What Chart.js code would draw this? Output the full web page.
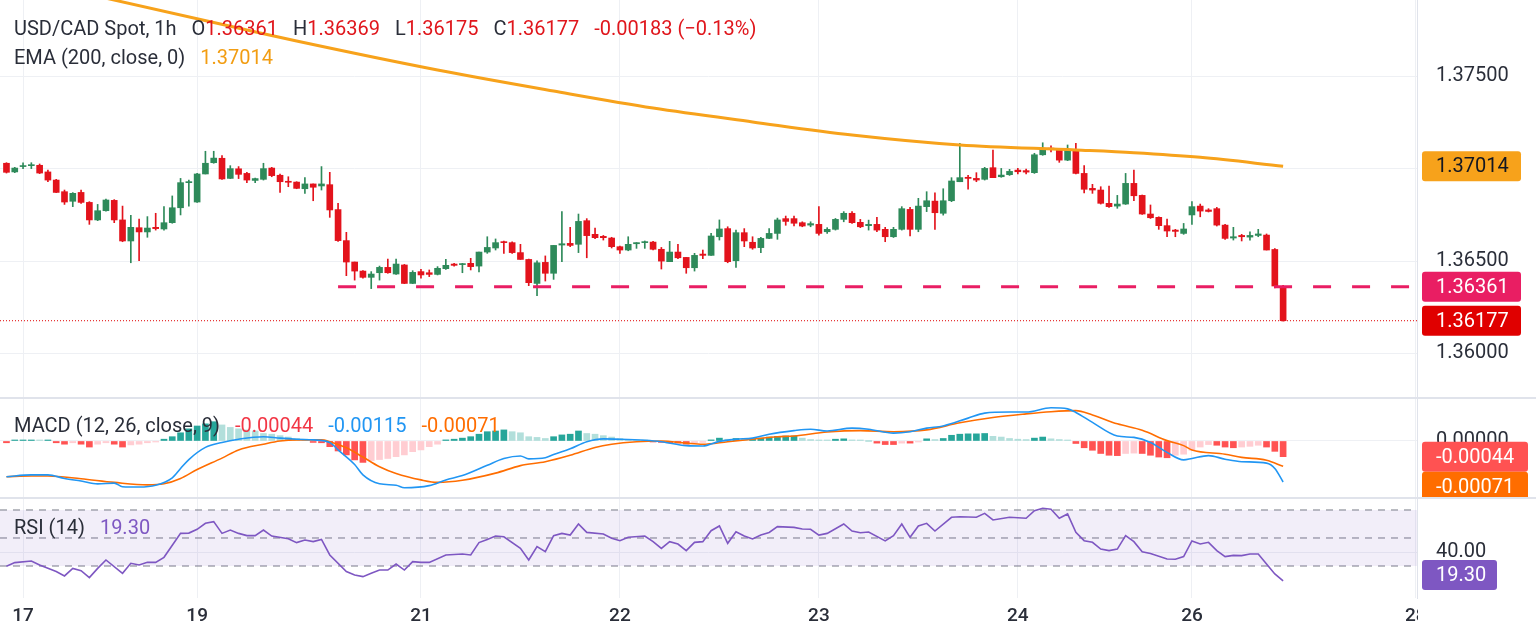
<!DOCTYPE html>
<html>
<head>
<meta charset="utf-8">
<script src="https://cdn.jsdelivr.net/npm/chart.js@4.4.1/dist/chart.umd.min.js"></script>
<style>
  body { margin: 0; background: #fff; overflow: hidden; }
  #wrap { position: relative; width: 1536px; height: 641px; overflow: hidden; background: #fff; font-family: Roboto, "Noto Sans", sans-serif; }
  canvas { position: absolute; left: 0; }
  .sep { position: absolute; left: 0; width: 1536px; background: #e0e3eb; }
  .legend { position: absolute; left: 14px; font-size: 20px; line-height: 24px; color: #2a2e39; white-space: nowrap; z-index: 2; }
  .legend span { margin-left: 15px; }
</style>
</head>
<body>
<div id="wrap">
  <canvas id="mainChart" width="1536" height="397" style="top:0"></canvas>
  <div class="sep" style="top:397px;height:2px"></div>
  <canvas id="macdChart" width="1536" height="98" style="top:399px"></canvas>
  <div class="sep" style="top:497px;height:2px"></div>
  <canvas id="rsiChart" width="1536" height="142" style="top:499px"></canvas>
  <div class="legend" id="legMain" style="top:16px"></div>
  <div class="legend" id="legEma" style="top:45px"></div>
  <div class="legend" id="legMacd" style="top:413px"></div>
  <div class="legend" id="legRsi" style="top:515px"></div>
</div>
<script>
// USD/CAD 1h candles (index 0 = first visible bar)
const opens = [
  1.37030, 1.36983, 1.37012, 1.37017, 1.37019, 1.36983, 1.36939, 1.36876, 1.36824, 1.36872,
  1.36818, 1.36723, 1.36773, 1.36829, 1.36723, 1.36609, 1.36681, 1.36658, 1.36683, 1.36674,
  1.36708, 1.36789, 1.36925, 1.36820, 1.36972, 1.37033, 1.37057, 1.36948, 1.37000, 1.36975,
  1.36937, 1.36943, 1.37004, 1.36965, 1.36932, 1.36928, 1.36892, 1.36918, 1.36907, 1.36914,
  1.36779, 1.36611, 1.36495, 1.36446, 1.36412, 1.36437, 1.36466, 1.36430, 1.36479, 1.36379,
  1.36443, 1.36437, 1.36428, 1.36459, 1.36484, 1.36481, 1.36488, 1.36473, 1.36549, 1.36571,
  1.36605, 1.36600, 1.36546, 1.36509, 1.36379, 1.36493, 1.36434, 1.36587, 1.36596, 1.36591,
  1.36719, 1.36645, 1.36634, 1.36625, 1.36578, 1.36560, 1.36594, 1.36600, 1.36603, 1.36564,
  1.36497, 1.36549, 1.36520, 1.36464, 1.36538, 1.36531, 1.36632, 1.36676, 1.36502, 1.36654,
  1.36602, 1.36573, 1.36623, 1.36650, 1.36730, 1.36730, 1.36708, 1.36695, 1.36699, 1.36659,
  1.36672, 1.36726, 1.36759, 1.36710, 1.36692, 1.36699, 1.36672, 1.36632, 1.36672, 1.36780,
  1.36672, 1.36795, 1.36825, 1.36759, 1.36827, 1.36930, 1.36954, 1.36948, 1.36943, 1.37006,
  1.36957, 1.36968, 1.36993, 1.36990, 1.36979, 1.37076, 1.37112, 1.37102, 1.37047, 1.37098,
  1.36975, 1.36894, 1.36885, 1.36813, 1.36798, 1.36809, 1.36921, 1.36856, 1.36755, 1.36737,
  1.36692, 1.36668, 1.36650, 1.36750, 1.36798, 1.36777, 1.36784, 1.36695, 1.36625, 1.36639,
  1.36630, 1.36639, 1.36641, 1.36563, 1.36361
];
const highs = [
  1.37033, 1.37008, 1.37033, 1.37033, 1.37026, 1.36993, 1.36943, 1.36885, 1.36871, 1.36885,
  1.36822, 1.36807, 1.36836, 1.36833, 1.36798, 1.36748, 1.36728, 1.36741, 1.36759, 1.36795,
  1.36853, 1.36948, 1.36939, 1.36975, 1.37095, 1.37095, 1.37071, 1.37017, 1.37012, 1.36981,
  1.36950, 1.37030, 1.37008, 1.36972, 1.36957, 1.36930, 1.36952, 1.36918, 1.37012, 1.36981,
  1.36813, 1.36656, 1.36495, 1.36448, 1.36443, 1.36473, 1.36511, 1.36511, 1.36482, 1.36448,
  1.36455, 1.36452, 1.36470, 1.36509, 1.36488, 1.36488, 1.36515, 1.36549, 1.36632, 1.36620,
  1.36609, 1.36605, 1.36591, 1.36511, 1.36502, 1.36528, 1.36585, 1.36768, 1.36683, 1.36755,
  1.36730, 1.36679, 1.36639, 1.36629, 1.36582, 1.36632, 1.36600, 1.36609, 1.36607, 1.36574,
  1.36607, 1.36591, 1.36520, 1.36542, 1.36560, 1.36650, 1.36723, 1.36686, 1.36668, 1.36676,
  1.36632, 1.36629, 1.36676, 1.36733, 1.36744, 1.36744, 1.36713, 1.36713, 1.36795, 1.36681,
  1.36731, 1.36768, 1.36768, 1.36726, 1.36722, 1.36737, 1.36683, 1.36683, 1.36795, 1.36791,
  1.36840, 1.36876, 1.36870, 1.36892, 1.36952, 1.37138, 1.36964, 1.36979, 1.37008, 1.37102,
  1.37002, 1.36997, 1.37002, 1.36999, 1.37084, 1.37141, 1.37125, 1.37109, 1.37129, 1.37138,
  1.37017, 1.36916, 1.36903, 1.36907, 1.36856, 1.36975, 1.36993, 1.36858, 1.36804, 1.36740,
  1.36728, 1.36672, 1.36704, 1.36822, 1.36809, 1.36784, 1.36791, 1.36699, 1.36683, 1.36645,
  1.36659, 1.36672, 1.36647, 1.36568, 1.36369
];
const lows = [
  1.36977, 1.36979, 1.37001, 1.37001, 1.36974, 1.36930, 1.36871, 1.36807, 1.36795, 1.36813,
  1.36699, 1.36719, 1.36771, 1.36708, 1.36605, 1.36491, 1.36502, 1.36629, 1.36668, 1.36668,
  1.36705, 1.36750, 1.36798, 1.36818, 1.36972, 1.37030, 1.36943, 1.36947, 1.36947, 1.36925,
  1.36925, 1.36939, 1.36957, 1.36872, 1.36903, 1.36892, 1.36867, 1.36827, 1.36885, 1.36737,
  1.36607, 1.36421, 1.36397, 1.36408, 1.36351, 1.36397, 1.36434, 1.36428, 1.36378, 1.36378,
  1.36408, 1.36416, 1.36425, 1.36455, 1.36473, 1.36437, 1.36452, 1.36441, 1.36542, 1.36560,
  1.36542, 1.36542, 1.36509, 1.36367, 1.36313, 1.36392, 1.36401, 1.36497, 1.36578, 1.36546,
  1.36518, 1.36621, 1.36614, 1.36571, 1.36542, 1.36556, 1.36569, 1.36569, 1.36560, 1.36457,
  1.36497, 1.36513, 1.36434, 1.36446, 1.36513, 1.36531, 1.36614, 1.36491, 1.36466, 1.36578,
  1.36564, 1.36546, 1.36621, 1.36618, 1.36694, 1.36690, 1.36686, 1.36686, 1.36641, 1.36650,
  1.36668, 1.36713, 1.36704, 1.36681, 1.36668, 1.36659, 1.36605, 1.36628, 1.36668, 1.36636,
  1.36659, 1.36768, 1.36672, 1.36749, 1.36822, 1.36930, 1.36889, 1.36930, 1.36939, 1.36952,
  1.36954, 1.36964, 1.36972, 1.36972, 1.36975, 1.37073, 1.37091, 1.37035, 1.37044, 1.36972,
  1.36870, 1.36867, 1.36809, 1.36791, 1.36786, 1.36807, 1.36827, 1.36753, 1.36731, 1.36672,
  1.36632, 1.36632, 1.36645, 1.36699, 1.36740, 1.36766, 1.36690, 1.36618, 1.36614, 1.36609,
  1.36614, 1.36632, 1.36560, 1.36355, 1.36175
];
const closes = [
  1.36981, 1.37004, 1.37017, 1.37021, 1.36977, 1.36939, 1.36872, 1.36820, 1.36867, 1.36818,
  1.36723, 1.36773, 1.36831, 1.36723, 1.36609, 1.36683, 1.36658, 1.36679, 1.36676, 1.36708,
  1.36789, 1.36925, 1.36930, 1.36972, 1.37030, 1.37058, 1.36945, 1.37001, 1.36970, 1.36939,
  1.36947, 1.37001, 1.36963, 1.36930, 1.36927, 1.36894, 1.36918, 1.36900, 1.36918, 1.36777,
  1.36611, 1.36495, 1.36446, 1.36412, 1.36430, 1.36466, 1.36437, 1.36484, 1.36379, 1.36439,
  1.36425, 1.36428, 1.36461, 1.36477, 1.36477, 1.36484, 1.36470, 1.36549, 1.36574, 1.36600,
  1.36600, 1.36546, 1.36509, 1.36383, 1.36491, 1.36434, 1.36585, 1.36594, 1.36585, 1.36715,
  1.36638, 1.36627, 1.36627, 1.36578, 1.36560, 1.36591, 1.36600, 1.36603, 1.36564, 1.36500,
  1.36549, 1.36518, 1.36464, 1.36531, 1.36531, 1.36636, 1.36674, 1.36497, 1.36654, 1.36609,
  1.36571, 1.36623, 1.36650, 1.36723, 1.36715, 1.36705, 1.36690, 1.36703, 1.36650, 1.36672,
  1.36726, 1.36759, 1.36708, 1.36686, 1.36699, 1.36668, 1.36632, 1.36672, 1.36784, 1.36672,
  1.36798, 1.36827, 1.36762, 1.36827, 1.36934, 1.36952, 1.36948, 1.36939, 1.37002, 1.36952,
  1.36966, 1.36986, 1.36984, 1.36982, 1.37076, 1.37102, 1.37105, 1.37047, 1.37102, 1.36975,
  1.36889, 1.36885, 1.36813, 1.36795, 1.36809, 1.36921, 1.36854, 1.36755, 1.36735, 1.36692,
  1.36663, 1.36661, 1.36674, 1.36795, 1.36771, 1.36769, 1.36695, 1.36623, 1.36632, 1.36632,
  1.36639, 1.36647, 1.36560, 1.36365, 1.36177
];
const changeAbs = -0.00183;
const changePct = -0.13;

// time axis: bar index where each day starts
const dayTicks = [2, 23, 50, 74, 98, 122, 143, 170];
const dayLabels = ['17', '19', '21', '22', '23', '24', '26', '28'];
const priceTicks = [1.360, 1.365, 1.370, 1.375];

// EMA 200 read at a few bars
const emaIdx = [0, 13, 29, 35, 52, 66, 78, 90, 102, 115, 129, 136, 144, 154];
const emaVal = [1.38049, 1.37914, 1.37752, 1.37692, 1.37535, 1.37421, 1.37329, 1.37254, 1.37183, 1.37129, 1.37102, 1.37087, 1.37062, 1.37014];

const supportLevel = 1.36361;
const supportFrom = 40;

// MACD (12, 26, 9)
const macdHist = [
  -0.00005, 0.00002, 0.00002, 0.00002, 0.00001, 0.00001, -0.00005, -0.00009, -0.00005, -0.00009,
  -0.00017, -0.00009, -0.00005, -0.00009, -0.00017, -0.00011, -0.00009, -0.00005, -0.00002, 0.00005,
  0.00012, 0.00023, 0.00034, 0.00042, 0.00048, 0.00054, 0.00045, 0.00038, 0.00034, 0.00031,
  0.00028, 0.00021, 0.00019, 0.00015, 0.00011, 0.00007, 0.00005, -0.00004, -0.00005, -0.00016,
  -0.00028, -0.00039, -0.00053, -0.00060, -0.00055, -0.00052, -0.00049, -0.00044, -0.00039, -0.00030,
  -0.00025, -0.00016, -0.00009, 0.00003, 0.00005, 0.00008, 0.00012, 0.00019, 0.00026, 0.00028,
  0.00031, 0.00026, 0.00023, 0.00012, 0.00010, 0.00007, 0.00012, 0.00017, 0.00019, 0.00028,
  0.00021, 0.00019, 0.00015, 0.00011, 0.00007, 0.00004, 0.00002, 0.00001, -0.00001, -0.00004,
  -0.00005, -0.00006, -0.00009, -0.00005, -0.00004, 0.00003, 0.00008, 0.00005, 0.00007, 0.00006,
  0.00006, 0.00008, 0.00011, 0.00013, 0.00014, 0.00014, 0.00008, 0.00004, 0.00002, 0.00001,
  0.00005, 0.00006, 0.00003, 0.00001, 0.00000, -0.00006, -0.00010, -0.00010, -0.00006, -0.00006,
  -0.00002, 0.00006, 0.00004, 0.00007, 0.00016, 0.00019, 0.00020, 0.00020, 0.00021, 0.00013,
  0.00011, 0.00007, 0.00005, 0.00004, 0.00008, 0.00011, 0.00006, 0.00004, 0.00002, -0.00007,
  -0.00019, -0.00026, -0.00035, -0.00040, -0.00041, -0.00035, -0.00034, -0.00035, -0.00040, -0.00045,
  -0.00047, -0.00040, -0.00037, -0.00026, -0.00017, -0.00010, -0.00012, -0.00017, -0.00019, -0.00017,
  -0.00015, -0.00012, -0.00017, -0.00029, -0.00044
];
const macdIdx = [0, 3, 5, 7, 9, 11, 13, 14, 16, 18, 20, 21, 22, 24, 26, 28, 31, 33, 35, 37,
  39, 40, 42, 43, 45, 47, 48, 51, 53, 55, 58, 60, 62, 63, 65, 66, 68, 70, 72, 74,
  77, 79, 82, 84, 86, 88, 90, 92, 95, 97, 99, 102, 104, 107, 109, 111, 113, 116, 118, 121,
  123, 126, 128, 129, 131, 134, 136, 138, 140, 142, 143, 145, 147, 149, 152, 153, 154];
const macdVal = [-0.00100, -0.00095, -0.00095, -0.00105, -0.00112, -0.00120, -0.00118, -0.00128, -0.00129, -0.00124,
  -0.00103, -0.00077, -0.00052, -0.00018, -0.00004, 0.00005, 0.00012, 0.00008, 0.00005, 0.00003,
  -0.00004, -0.00025, -0.00066, -0.00095, -0.00120, -0.00124, -0.00131, -0.00125, -0.00109, -0.00097,
  -0.00068, -0.00049, -0.00042, -0.00050, -0.00047, -0.00038, -0.00022, -0.00002, 0.00006, 0.00005,
  0.00002, -0.00002, -0.00013, -0.00014, -0.00001, 0.00005, 0.00008, 0.00019, 0.00029, 0.00033,
  0.00028, 0.00036, 0.00033, 0.00022, 0.00026, 0.00036, 0.00042, 0.00064, 0.00078, 0.00081,
  0.00081, 0.00093, 0.00090, 0.00080, 0.00052, 0.00014, 0.00010, -0.00004, -0.00032, -0.00053,
  -0.00049, -0.00041, -0.00051, -0.00058, -0.00062, -0.00077, -0.00115];
const signalIdx = [0, 3, 5, 9, 13, 17, 19, 21, 23, 26, 28, 31, 33, 35, 38, 39, 41, 43, 45, 47,
  50, 52, 55, 59, 62, 65, 68, 71, 73, 76, 79, 82, 84, 87, 90, 93, 95, 99, 103, 107,
  111, 115, 119, 123, 126, 129, 131, 134, 137, 140, 142, 143, 147, 149, 152, 154];
const signalVal = [-0.00100, -0.00098, -0.00098, -0.00106, -0.00116, -0.00123, -0.00120, -0.00105, -0.00080, -0.00048,
  -0.00025, -0.00009, 0.00000, 0.00003, 0.00003, -0.00002, -0.00019, -0.00045, -0.00072, -0.00091,
  -0.00109, -0.00116, -0.00110, -0.00090, -0.00069, -0.00058, -0.00040, -0.00018, -0.00009, -0.00002,
  0.00000, -0.00006, -0.00009, -0.00002, 0.00005, 0.00012, 0.00014, 0.00025, 0.00029, 0.00026,
  0.00031, 0.00051, 0.00066, 0.00076, 0.00082, 0.00085, 0.00073, 0.00048, 0.00030, 0.00001,
  -0.00013, -0.00025, -0.00037, -0.00046, -0.00054, -0.00071];

// RSI (14)
const rsiIdx = [0, 1, 3, 4, 6, 7, 8, 9, 10, 11, 12, 14, 15, 16, 17, 18, 19, 21, 22, 23,
  24, 25, 26, 27, 28, 29, 30, 31, 32, 34, 35, 36, 37, 38, 39, 41, 42, 43, 44, 45,
  46, 47, 48, 49, 50, 51, 53, 55, 56, 57, 58, 59, 60, 62, 63, 64, 65, 66, 67, 68,
  69, 70, 72, 73, 74, 75, 77, 78, 79, 80, 81, 82, 83, 84, 85, 86, 87, 88, 89, 90,
  91, 92, 93, 95, 96, 97, 98, 99, 101, 102, 103, 104, 106, 107, 108, 109, 110, 111, 112, 114,
  115, 117, 118, 119, 121, 123, 124, 125, 126, 127, 128, 129, 130, 131, 132, 133, 134, 135, 136, 137,
  138, 140, 141, 142, 143, 144, 145, 146, 147, 148, 149, 150, 151, 152, 153, 154];
const rsiVal = [29.8, 32.4, 33.6, 30.7, 26.0, 22.9, 28.3, 26.7, 21.7, 28.3, 34.3, 24.8, 31.9, 30.7, 32.6, 32.6, 36.2, 53.3, 53.5, 56.2,
  60.5, 61.7, 53.3, 55.7, 53.3, 51.7, 51.7, 55.7, 51.4, 49.5, 46.7, 48.6, 47.4, 49.0, 37.9, 26.0, 23.6, 22.4, 24.8, 27.1,
  27.1, 31.4, 27.1, 33.1, 32.6, 32.6, 37.9, 38.6, 37.9, 46.7, 49.0, 51.4, 50.9, 42.6, 34.3, 43.8, 40.2, 51.7, 53.3, 52.1,
  60.0, 54.0, 52.9, 49.8, 48.1, 50.5, 51.4, 47.4, 42.6, 47.4, 45.7, 41.0, 46.9, 47.4, 55.2, 58.6, 46.2, 54.5, 51.4, 49.3,
  52.1, 54.0, 58.1, 57.6, 56.4, 56.2, 52.1, 53.3, 60.0, 55.0, 53.8, 54.3, 47.9, 51.7, 60.0, 50.5, 58.6, 60.5, 55.0, 64.8,
  65.2, 64.8, 67.6, 62.9, 64.8, 64.1, 69.5, 71.2, 70.5, 64.1, 67.2, 54.0, 48.1, 46.9, 42.1, 41.0, 42.1, 51.7, 47.4, 40.2,
  39.0, 35.0, 34.8, 36.7, 47.9, 45.7, 46.9, 41.0, 36.7, 37.6, 37.4, 38.6, 38.6, 31.4, 24.3, 19.3];
const rsiLevels = [70, 50, 30];
const rsiTicks = [40];

// ---- look
const FONT = 'Roboto, "Noto Sans", sans-serif';
const UP = '#2e8a5a';
const DOWN = '#e3131c';
const EMA_C = '#f7a21b';
const SUPPORT_C = '#e91e63';
const LAST_C = '#e00000';
const MACD_C = '#2196f3';
const SIGNAL_C = '#ff6d00';
const RSI_C = '#7e57c2';
const GRID = '#eef0f4';
const TXT = '#2a2e39';
const X_MIN = -0.78, X_MAX = 170.15;
const AXIS_W = 119;

const last = closes.length - 1;

function xAxis(showLabels) {
  return {
    type: 'linear', min: X_MIN, max: X_MAX, offset: false,
    afterBuildTicks: s => { s.ticks = dayTicks.map(v => ({ value: v })); },
    afterFit: s => { s.height = showLabels ? 43 : 0; },
    grid: { color: GRID, drawTicks: false, offset: false },
    border: { display: false },
    ticks: {
      display: showLabels, autoSkip: false, maxRotation: 0, padding: 7,
      color: TXT, font: { size: 19, family: FONT, weight: '500' },
      callback: (v, i) => dayLabels[i]
    }
  };
}

function yAxis(min, max, tickVals, fmt) {
  return {
    position: 'right', min: min, max: max,
    afterBuildTicks: s => { s.ticks = tickVals.map(v => ({ value: v })); },
    // fixed scale width, and no extra top/bottom padding from the tick labels
    afterFit: s => { s.width = AXIS_W; s.paddingTop = 0; s.paddingBottom = 0; },
    grid: { color: GRID, drawTicks: false },
    border: { display: true, color: '#e0e3eb' },
    ticks: { padding: 19, color: TXT, font: { size: 20, family: FONT }, callback: v => fmt(v) }
  };
}

function baseOptions(scales) {
  return {
    responsive: false, animation: false, devicePixelRatio: 1,
    layout: { padding: 0 },
    plugins: { legend: { display: false }, tooltip: { enabled: false } },
    scales: scales
  };
}

// price tags on the right scale
function drawTags(chart, tags, digits, maxCenter) {
  const { ctx, chartArea } = chart;
  const ys = chart.scales.y;
  let prevBottom = -Infinity;
  ctx.save();
  ctx.font = '20px ' + FONT;
  ctx.textBaseline = 'middle';
  tags.forEach(t => {
    let cy = ys.getPixelForValue(t.v);
    if (maxCenter !== undefined) cy = Math.min(cy, maxCenter);
    const top = Math.max(cy - 15, prevBottom);
    ctx.fillStyle = t.bg;
    ctx.beginPath();
    ctx.roundRect(chartArea.right + 5, top, t.w, 30, 3);
    ctx.fill();
    ctx.fillStyle = t.fg;
    ctx.fillText(t.v.toFixed(digits), chartArea.right + 19, top + 16);
    prevBottom = top + 30;
  });
  ctx.restore();
}

const line = (data, color, width, extra) => Object.assign({
  type: 'line', data: data, borderColor: color, borderWidth: width,
  pointRadius: 0, fill: false
}, extra || {});

// ---- main price pane
const candleColor = c => closes[c.dataIndex] >= opens[c.dataIndex] ? UP : DOWN;

new Chart(document.getElementById('mainChart'), {
  type: 'bar',
  data: {
    datasets: [
      line([{ x: supportFrom, y: supportLevel }, { x: X_MAX, y: supportLevel }], SUPPORT_C, 3,
        { borderDash: [18, 21], order: 0 }),
      line(emaIdx.map((x, k) => ({ x: x, y: emaVal[k] })), EMA_C, 3,
        { cubicInterpolationMode: 'monotone', order: 1 }),
      {
        type: 'bar', order: 2, grouped: false, barThickness: 6, minBarLength: 1,
        data: opens.map((o, i) => ({ x: i, y: [o, closes[i]] })),
        backgroundColor: candleColor, borderWidth: 0
      },
      {
        type: 'bar', order: 3, grouped: false, barThickness: 1,
        data: lows.map((l, i) => ({ x: i, y: [l, highs[i]] })),
        backgroundColor: candleColor, borderWidth: 0
      },
      line([{ x: X_MIN, y: closes[last] }, { x: X_MAX, y: closes[last] }], LAST_C, 1,
        { borderDash: [1, 2], order: 4 })
    ]
  },
  options: baseOptions({
    x: xAxis(false),
    y: yAxis(1.357638, 1.379144, priceTicks, v => v.toFixed(5))
  }),
  plugins: [{
    id: 'priceTags',
    afterDraw: ch => drawTags(ch, [
      { v: emaVal[emaVal.length - 1], bg: EMA_C, fg: '#131722', w: 99 },
      { v: supportLevel, bg: SUPPORT_C, fg: '#ffffff', w: 99 },
      { v: closes[last], bg: LAST_C, fg: '#ffffff', w: 99 }
    ], 5)
  }]
});

// ---- MACD pane
const histColor = c => {
  const i = c.dataIndex, v = macdHist[i], p = i > 0 ? macdHist[i - 1] : 0;
  if (v >= 0) return v >= p ? '#26a69a' : '#b2dfdb';
  return v <= p ? '#ff5252' : '#ffcdd2';
};

new Chart(document.getElementById('macdChart'), {
  type: 'bar',
  data: {
    datasets: [
      line(macdIdx.map((x, k) => ({ x: x, y: macdVal[k] })), MACD_C, 1.6,
        { cubicInterpolationMode: 'monotone', order: 0 }),
      line(signalIdx.map((x, k) => ({ x: x, y: signalVal[k] })), SIGNAL_C, 1.6,
        { cubicInterpolationMode: 'monotone', order: 1 }),
      {
        type: 'bar', order: 2, grouped: false, barThickness: 6, minBarLength: 1,
        data: macdHist.map((v, i) => ({ x: i, y: v })),
        backgroundColor: histColor, borderWidth: 0
      }
    ]
  },
  options: baseOptions({
    x: xAxis(false),
    y: yAxis(-0.001569, 0.001176, [0], v => v.toFixed(5))
  }),
  plugins: [{
    id: 'macdTags',
    afterDraw: ch => drawTags(ch, [
      { v: macdHist[last], bg: '#ff5252', fg: '#ffffff', w: 106 },
      { v: signalVal[signalVal.length - 1], bg: SIGNAL_C, fg: '#ffffff', w: 106 }
    ], 5)
  }]
});

// ---- RSI pane
const band = v => [{ x: X_MIN, y: v }, { x: X_MAX, y: v }];

new Chart(document.getElementById('rsiChart'), {
  type: 'line',
  data: {
    datasets: [
      line(rsiIdx.map((x, k) => ({ x: x, y: rsiVal[k] })), RSI_C, 1.6, { order: 0 }),
      line(band(rsiLevels[0]), '#787b86', 1,
        { borderDash: [7, 6], order: 1, fill: '+2', backgroundColor: 'rgba(126, 87, 194, 0.1)' }),
      line(band(rsiLevels[1]), '#787b86', 1, { borderDash: [7, 6], order: 2 }),
      line(band(rsiLevels[2]), '#787b86', 1, { borderDash: [7, 6], order: 3 })
    ]
  },
  options: baseOptions({
    x: xAxis(true),
    y: yAxis(7.143, 77.857, rsiTicks, v => v.toFixed(2))
  }),
  plugins: [{
    id: 'rsiTags',
    afterDraw: ch => {
      const { ctx, chartArea } = ch;
      ctx.save();
      ctx.fillStyle = '#ffffff';
      ctx.fillRect(chartArea.right + 1, chartArea.bottom + 1, 200, 100);
      ctx.restore();
      drawTags(ch, [{ v: rsiVal[rsiVal.length - 1], bg: RSI_C, fg: '#ffffff', w: 75 }], 2, chartArea.bottom - 23);
    }
  }]
});

// ---- legends
const RED_TXT = '#e0161c';
const item = (label, value, color) =>
  `<span>${label}<b style="font-weight:normal;color:${color}">${value}</b></span>`;

document.getElementById('legMain').innerHTML =
  'USD/CAD Spot, 1h' +
  item('O', opens[last].toFixed(5), RED_TXT) +
  item('H', highs[last].toFixed(5), RED_TXT) +
  item('L', lows[last].toFixed(5), RED_TXT) +
  item('C', closes[last].toFixed(5), RED_TXT) +
  item('', changeAbs.toFixed(5) + ' (\u2212' + Math.abs(changePct).toFixed(2) + '%)', RED_TXT);

document.getElementById('legEma').innerHTML =
  'EMA (200, close, 0)' + item('', emaVal[emaVal.length - 1].toFixed(5), '#f29d12');

document.getElementById('legMacd').innerHTML =
  'MACD (12, 26, close, 9)' +
  item('', macdHist[last].toFixed(5), '#f23645') +
  item('', macdVal[macdVal.length - 1].toFixed(5), MACD_C) +
  item('', signalVal[signalVal.length - 1].toFixed(5), SIGNAL_C);

document.getElementById('legRsi').innerHTML =
  'RSI (14)' + item('', rsiVal[rsiVal.length - 1].toFixed(2), RSI_C);
</script>
</body>
</html>
